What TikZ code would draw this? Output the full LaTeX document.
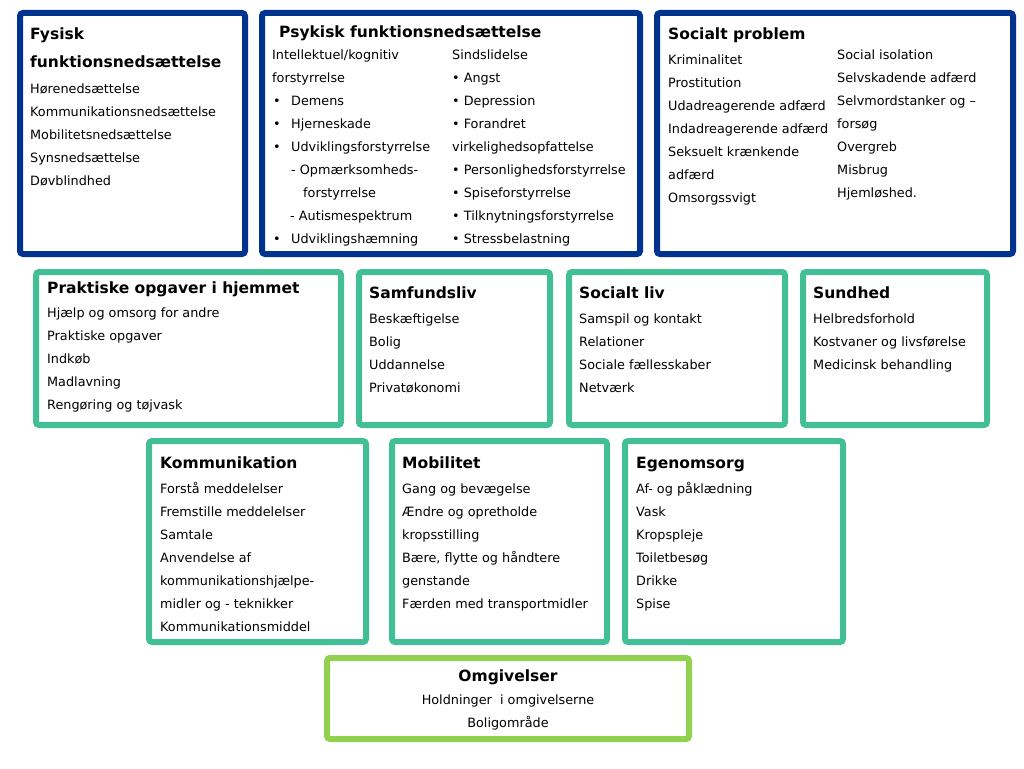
\documentclass[tikz,border=0pt]{standalone}
\usepackage{fontspec}
\setmainfont{DejaVu Sans}
\definecolor{dblue}{RGB}{0,51,141}
\definecolor{mgreen}{RGB}{67,191,150}
\definecolor{lgreen}{RGB}{146,208,80}
\newcommand{\fl}{\vphantom{Å}}
\begin{document}
\begin{tikzpicture}[x=1pt,y=-1pt,
  bbox/.style={draw=#1, line width=6pt, rounded corners=3pt, fill=white, inner sep=0pt, outer sep=0pt},
  txt/.style={anchor=north west, inner sep=0pt, align=left, font=\fontsize{12.8}{23}\selectfont},
  ttl/.style={anchor=north west, inner sep=0pt, align=left, font=\bfseries\fontsize{15.5}{28}\selectfont}]
\useasboundingbox[fill=white] (0,0) rectangle (1024,768);
% boxes
\node[bbox=dblue, minimum width=225pt, minimum height=241pt] (fys) at (132.5,133.5) {};
\node[bbox=dblue, minimum width=378pt, minimum height=241pt] (psy) at (451,133.5) {};
\node[bbox=dblue, minimum width=356pt, minimum height=241pt] (soc) at (835,133.5) {};
\node[bbox=mgreen, minimum width=305pt, minimum height=153pt] (pra) at (188.5,348.5) {};
\node[bbox=mgreen, minimum width=191pt, minimum height=153pt] (sam) at (454.5,348.5) {};
\node[bbox=mgreen, minimum width=216pt, minimum height=153pt] (sliv) at (677,348.5) {};
\node[bbox=mgreen, minimum width=184pt, minimum height=153pt] (sun) at (895,348.5) {};
\node[bbox=mgreen, minimum width=217pt, minimum height=201pt] (kom) at (257.5,541.5) {};
\node[bbox=mgreen, minimum width=215pt, minimum height=201pt] (mob) at (499.5,541.5) {};
\node[bbox=mgreen, minimum width=218pt, minimum height=201pt] (ego) at (734,541.5) {};
\node[bbox=lgreen, minimum width=362pt, minimum height=81pt] (omg) at (508,698.5) {};
% Fysisk
\node[ttl] (fysT) at (30,27.5) {Fysisk\\funktionsnedsættelse};
\node[txt] (fysL) at (30,81) {\fl Hørenedsættelse\\Kommunikationsnedsættelse\\Mobilitetsnedsættelse\\Synsnedsættelse\\Døvblindhed};
% Psykisk
\node[ttl] (psyT) at (279,25.5) {Psykisk funktionsnedsættelse};
\node[txt] (psyL) at (272,47) {\fl Intellektuel/kognitiv\\forstyrrelse\\
\makebox[19pt][l]{\hspace{1pt}•}Demens\\
\makebox[19pt][l]{\hspace{1pt}•}Hjerneskade\\
\makebox[19pt][l]{\hspace{1pt}•}Udviklingsforstyrrelse\\
\hspace{19pt}- Opmærksomheds-\\
\hspace{31pt}forstyrrelse\\
\hspace{18pt}- Autismespektrum\\
\makebox[19pt][l]{\hspace{1pt}•}Udviklingshæmning};
\node[txt] (psyR) at (452,47) {\fl Sindslidelse\\• Angst\\• Depression\\• Forandret\\virkelighedsopfattelse\\• Personlighedsforstyrrelse\\• Spiseforstyrrelse\\• Tilknytningsforstyrrelse\\• Stressbelastning};
% Socialt problem
\node[ttl] (socT) at (668,27.5) {Socialt problem};
\node[txt] (socL) at (668,52) {\fl Kriminalitet\\Prostitution\\Udadreagerende adfærd\\Indadreagerende adfærd\\Seksuelt krænkende\\adfærd\\Omsorgssvigt};
\node[txt] (socR) at (837,47) {\fl Social isolation\\Selvskadende adfærd\\Selvmordstanker og –\\forsøg\\Overgreb\\Misbrug\\Hjemløshed.};
% Row 2
\node[ttl] (praT) at (47,281.5) {Praktiske opgaver i hjemmet};
\node[txt] (praL) at (47,305) {\fl Hjælp og omsorg for andre\\Praktiske opgaver\\Indkøb\\Madlavning\\Rengøring og tøjvask};
\node[ttl] (samT) at (369,286.5) {Samfundsliv};
\node[txt] (samL) at (369,311) {\fl Beskæftigelse\\Bolig\\Uddannelse\\Privatøkonomi};
\node[ttl] (slivT) at (579,286.5) {Socialt liv};
\node[txt] (slivL) at (579,311) {\fl Samspil og kontakt\\Relationer\\Sociale fællesskaber\\Netværk};
\node[ttl] (sunT) at (813,286.5) {Sundhed};
\node[txt] (sunL) at (813,311) {\fl Helbredsforhold\\Kostvaner og livsførelse\\Medicinsk behandling};
% Row 3
\node[ttl] (komT) at (160,456.5) {Kommunikation};
\node[txt] (komL) at (160,481) {\fl Forstå meddelelser\\Fremstille meddelelser\\Samtale\\Anvendelse af\\kommunikationshjælpe-\\midler og - teknikker\\Kommunikationsmiddel};
\node[ttl] (mobT) at (402,456.5) {Mobilitet};
\node[txt] (mobL) at (402,481) {\fl Gang og bevægelse\\Ændre og opretholde\\kropsstilling\\Bære, flytte og håndtere\\genstande\\Færden med transportmidler};
\node[ttl] (egoT) at (636,456.5) {Egenomsorg};
\node[txt] (egoL) at (636,481) {\fl Af- og påklædning\\Vask\\Kropspleje\\Toiletbesøg\\Drikke\\Spise};
% Omgivelser
\node[ttl, anchor=north, align=center] (omgT) at (508,669.5) {Omgivelser};
\node[txt, anchor=north, align=center] (omgL) at (508,692) {\fl Holdninger\ \ i omgivelserne\\Boligområde};
\end{tikzpicture}
\end{document}
